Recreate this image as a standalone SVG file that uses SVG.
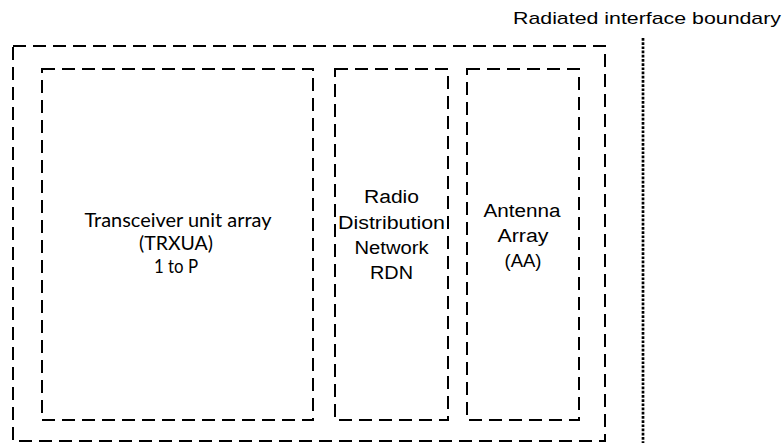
<svg xmlns="http://www.w3.org/2000/svg" width="784" height="443" viewBox="0 0 784 443">
<style>
.box{fill:none;stroke:#000;stroke-width:2;stroke-dasharray:13 7}
.arial{font-family:"Liberation Sans",Arial,sans-serif;font-size:18px;fill:#000;text-anchor:middle}
.cal{font-family:Lato,"Open Sans",sans-serif;font-size:18.5px;fill:#000;text-anchor:middle}
.bnd{fill:none;stroke:#000;stroke-width:2.7;stroke-dasharray:2.7 1.5}
</style>
<rect width="784" height="443" fill="#fff"/>
<g id="outer">
<rect class="box" x="13" y="46" width="592" height="395"/>
</g>
<g id="trxua">
<rect class="box" x="42" y="69" width="271" height="351"/>
<text class="cal" x="178" y="227" textLength="187" lengthAdjust="spacingAndGlyphs">Transceiver unit array</text>
<text class="cal" x="176" y="250" textLength="74" lengthAdjust="spacingAndGlyphs">(TRXUA)</text>
<text class="cal" x="176" y="273" textLength="44" lengthAdjust="spacingAndGlyphs">1 to P</text>
</g>
<g id="rdn">
<rect class="box" x="335" y="69" width="113" height="351"/>
<text class="arial" x="391.5" y="203" textLength="55" lengthAdjust="spacingAndGlyphs">Radio</text>
<text class="arial" x="391.5" y="229" textLength="107" lengthAdjust="spacingAndGlyphs">Distribution</text>
<text class="arial" x="391.5" y="254" textLength="74" lengthAdjust="spacingAndGlyphs">Network</text>
<text class="arial" x="391.5" y="279" textLength="43" lengthAdjust="spacingAndGlyphs">RDN</text>
</g>
<g id="aa">
<rect class="box" x="467" y="69" width="112" height="351"/>
<text class="arial" x="522" y="217" textLength="77" lengthAdjust="spacingAndGlyphs">Antenna</text>
<text class="arial" x="523" y="242" textLength="51" lengthAdjust="spacingAndGlyphs">Array</text>
<text class="arial" x="523" y="267" textLength="37" lengthAdjust="spacingAndGlyphs">(AA)</text>
</g>
<g id="connectors">
<line class="bnd" x1="643" y1="38" x2="643" y2="443"/>
</g>
<g id="boundary-label">
<text x="513" y="24" font-family="Liberation Sans,Arial,sans-serif" font-size="17" textLength="268" lengthAdjust="spacingAndGlyphs">Radiated interface boundary</text>
</g>
</svg>
